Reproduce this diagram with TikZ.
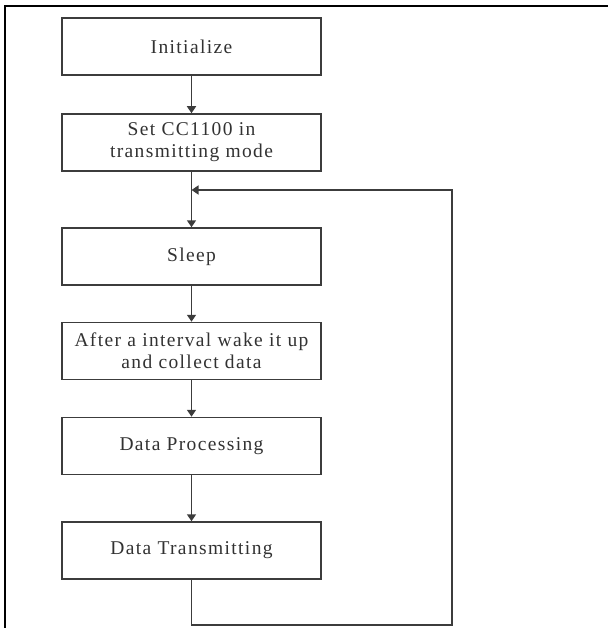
\documentclass[tikz,border=0pt]{standalone}
\usepackage{fontspec}
\setmainfont{Liberation Serif}[LetterSpace=7]
\usepackage{tikz}
\usetikzlibrary{
    positioning,
    arrows.meta,
    calc
}
\definecolor{lineGray}{RGB}{60, 60, 60}
\definecolor{textGray}{RGB}{50, 50, 50}

\begin{document}
\begin{tikzpicture}[x=1pt, y=-1pt, >={Triangle[length=7pt, width=9pt]},
    flowBox/.style={draw=lineGray, line width=1.5pt, minimum width=259pt,
        minimum height=57pt, align=center, text=textGray,
        font=\fontsize{19.5}{22}\selectfont},
    flowArrow/.style={->, line width=1.5pt, draw=lineGray}]
        % 外枠
        \useasboundingbox (0,0) rectangle (608,628);
        \draw[line width=2.5pt] (5,628) -- (5,6) -- (608,6);

        % 処理ボックス
        \node[flowBox] (init) at (191.5,46.5) {Initialize};
        \node[flowBox] (setMode) at (191.5,142.5) {Set CC1100 in\\transmitting mode};
        \node[flowBox] (sleep) at (191.5,256.5) {Sleep};
        \node[flowBox] (wake) at (191.5,351) {After a interval wake it up\\and collect data};
        \node[flowBox] (proc) at (191.5,446) {Data Processing};
        \node[flowBox] (trans) at (191.5,550.5) {Data Transmitting};

        \coordinate (loopIn) at (setMode.south |- 0,190);

        % 矢印
        \draw[flowArrow] (init) -- (setMode);
        \draw[flowArrow] (setMode) -- (sleep);
        \draw[flowArrow] (sleep) -- (wake);
        \draw[flowArrow] (wake) -- (proc);
        \draw[flowArrow] (proc) -- (trans);

        % 戻りループ
        \draw[flowArrow] (trans.south) |- (452,625) |- (loopIn);
    \end{tikzpicture}
\end{document}
